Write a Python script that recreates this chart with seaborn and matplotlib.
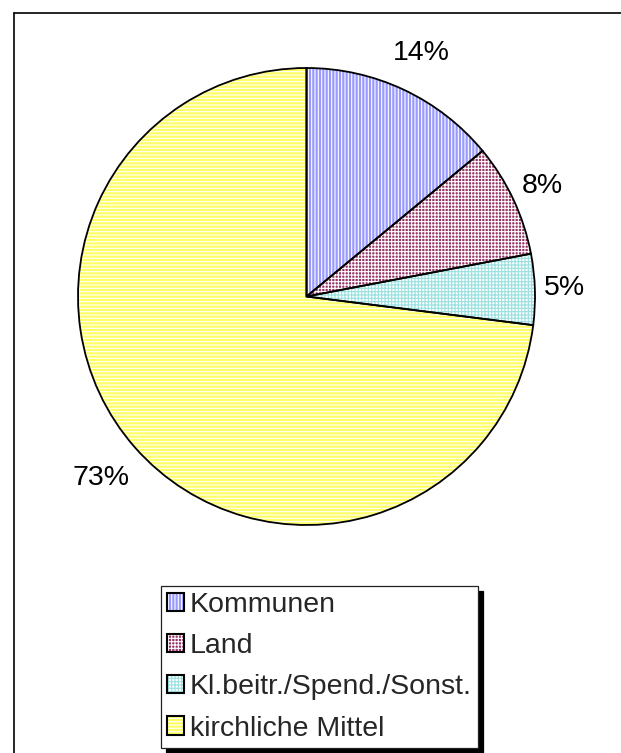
import matplotlib
matplotlib.use('Agg')
import matplotlib.pyplot as plt
import seaborn as sns
import numpy as np
from matplotlib.patches import Patch
from matplotlib.lines import Line2D

labels = ['Kommunen', 'Land', 'Kl.beitr./Spend./Sonst.', 'kirchliche Mittel']
shares = [14, 8, 5, 73]
face_colors = ['#9999FF', '#993366', '#FFFFFF', '#FFFF66']
hatch_colors = ['#FFFFFF', '#FFFFFF', '#99E0E0', '#FFFFFF']
hatches = ['|||||', '+++++', '+++++', '-----']
label_radius = [1.18, 1.14, 1.13, 1.20]

sns.set_theme(style='white')
plt.rcParams['font.family'] = ['Liberation Sans', 'DejaVu Sans']
plt.rcParams['hatch.linewidth'] = 0.8

fig = plt.figure(figsize=(6.21, 7.53), dpi=100)
ax = fig.add_axes([78 / 621, 1 - 525 / 753, 457 / 621, 457 / 753])

# hatched fill first, then black outlines on top
wedges, _, pct = ax.pie(shares, startangle=90, counterclock=False, colors=face_colors,
                        autopct='%1.0f%%', pctdistance=1.16,
                        wedgeprops=dict(linewidth=0),
                        textprops=dict(fontsize=20.5, color='black'))
for w, h, hc in zip(wedges, hatches, hatch_colors):
    w.set_hatch(h)
    w.set_edgecolor(hc)

for w, t, r in zip(wedges, pct, label_radius):
    mid = np.deg2rad((w.theta1 + w.theta2) / 2)
    t.set_position((r * np.cos(mid), r * np.sin(mid)))

ax.pie(shares, startangle=90, counterclock=False,
       wedgeprops=dict(fill=False, edgecolor='black', linewidth=1.3))
ax.set_xlim(-1, 1)
ax.set_ylim(-1, 1)

handles = []
for fc, hc, h in zip(face_colors, hatch_colors, hatches):
    handles.append((Patch(facecolor=fc, edgecolor=hc, hatch=h, linewidth=0),
                    Patch(fill=False, edgecolor='black', linewidth=1.5)))

leg = fig.legend(handles, labels, loc='upper left',
                 bbox_to_anchor=(161 / 621, 1 - 586 / 753),
                 bbox_transform=fig.transFigure,
                 fontsize=20.5, frameon=True, fancybox=False,
                 shadow={'ox': 3.6, 'oy': -3.6, 'color': 'black', 'alpha': 1},
                 handlelength=0.6, handleheight=0.6, handletextpad=0.2,
                 labelspacing=0.53, borderpad=0.22, borderaxespad=0)
leg.get_frame().set_edgecolor('#222222')
leg.get_frame().set_linewidth(0.9)
leg.get_frame().set_alpha(1)

# outer chart border, only top and left edges fall inside the picture
fig.add_artist(Line2D([14 / 621, 14 / 621], [0, 1 - 13 / 753], transform=fig.transFigure,
                      color='black', linewidth=1.2))
fig.add_artist(Line2D([14 / 621, 1], [1 - 13 / 753, 1 - 13 / 753], transform=fig.transFigure,
                      color='black', linewidth=1.2))

fig.savefig('out.png', dpi=100)
